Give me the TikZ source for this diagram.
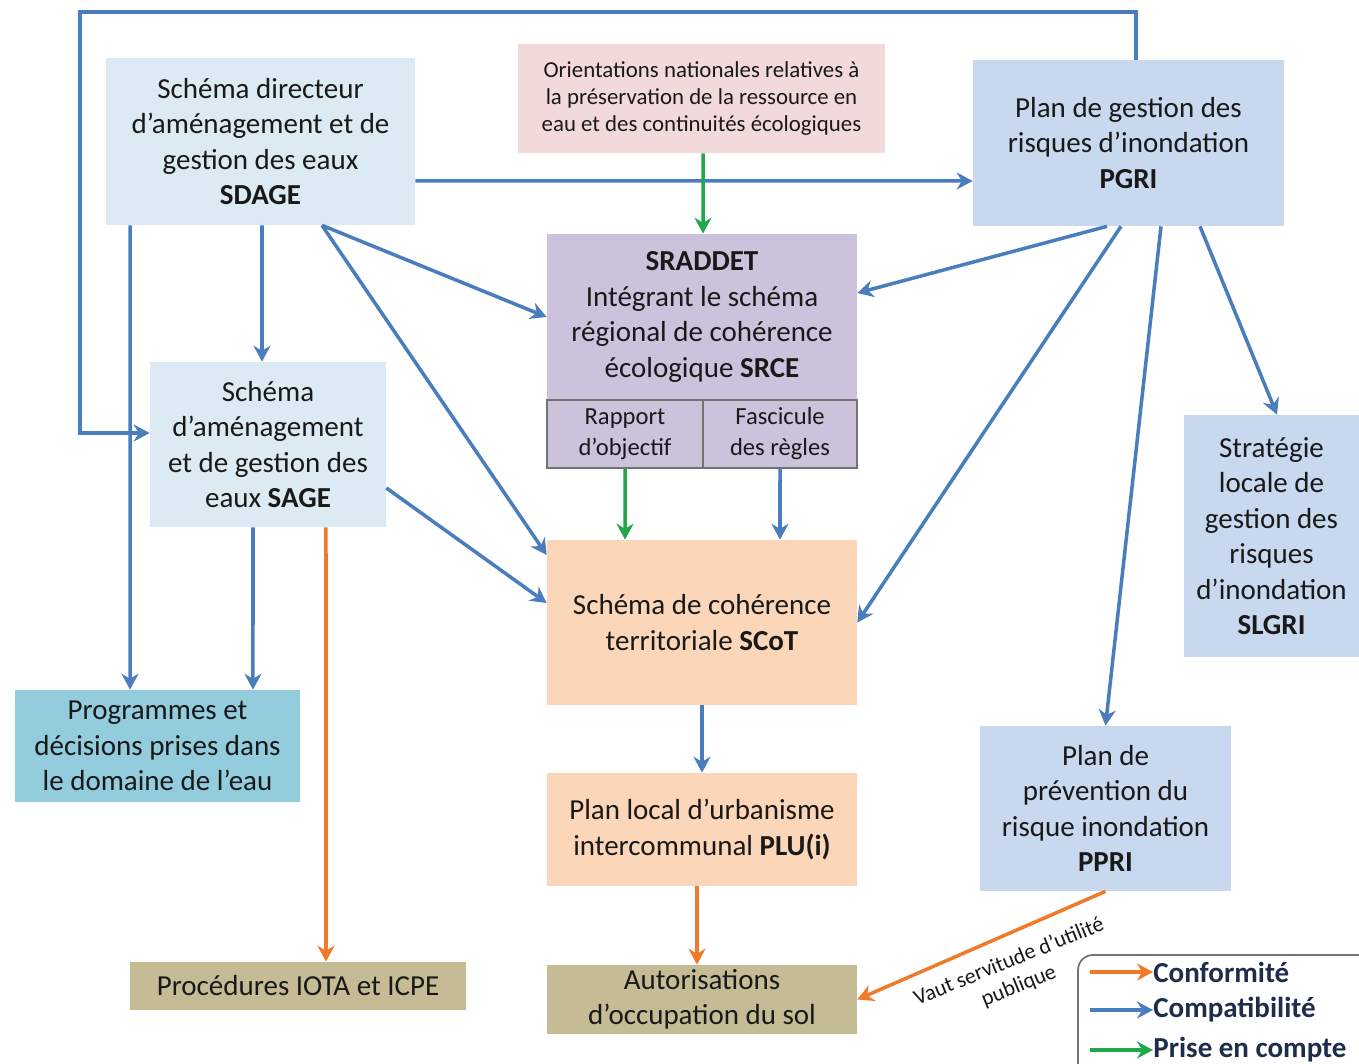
\documentclass[tikz,border=0pt]{standalone}
\usepackage{fontspec}
\setmainfont{Carlito}
\usetikzlibrary{arrows.meta}
\definecolor{eaubleu}{HTML}{DCEBF3}
\definecolor{risqbleu}{HTML}{C7D8EF}
\definecolor{orientrose}{HTML}{F2DADA}
\definecolor{sradlav}{HTML}{CCC2DB}
\definecolor{scotpeche}{HTML}{FBD6B8}
\definecolor{autokaki}{HTML}{C5BC96}
\definecolor{progbleu}{HTML}{93CCDC}
\definecolor{flbleu}{HTML}{4A7DBE}
\definecolor{florange}{HTML}{F07A2A}
\definecolor{flvert}{HTML}{22A84A}
\definecolor{legtexte}{HTML}{1F2D4D}
\begin{document}
\begin{tikzpicture}[x=0.02cm,y=-0.02cm,
    boite/.style={inner sep=0pt,align=center,text=black!90,font=\fontsize{16.5}{20.2}\selectfont},
    compat/.style={line width=2pt,draw=flbleu,-{Stealth[length=0.32cm,width=0.34cm]}},
    conform/.style={line width=2pt,draw=florange,-{Stealth[length=0.32cm,width=0.34cm]}},
    prisecpt/.style={line width=2pt,draw=flvert,-{Stealth[length=0.32cm,width=0.34cm]}},
    legtxt/.style={anchor=west,inner sep=0pt,text=legtexte,font=\fontsize{16.5}{20}\selectfont\bfseries}]
    \useasboundingbox (0,0) rectangle (1359,1064);

    \node[boite,fill=eaubleu,minimum width=6.18cm,minimum height=3.34cm] (sdage) at (260.5,141.5)
        {Schéma directeur\\d’aménagement et de\\gestion des eaux\\\textbf{SDAGE}};
    \node[boite,fill=orientrose,minimum width=7.34cm,minimum height=2.18cm,font=\fontsize{13}{15.3}\selectfont] (orient) at (701.5,98.5)
        {Orientations nationales relatives à\\la préservation de la ressource en\\eau et des continuités écologiques};
    \node[boite,fill=risqbleu,minimum width=6.22cm,minimum height=3.32cm] (pgri) at (1128.5,143)
        {Plan de gestion des\\risques d’inondation\\\textbf{PGRI}};
    \node[boite,fill=sradlav,minimum width=6.2cm,minimum height=3.32cm] (sraddet) at (702,317)
        {\textbf{SRADDET}\\Intégrant le schéma\\régional de cohérence\\écologique \textbf{SRCE}};
    \node[boite,fill=sradlav,draw=black!55,line width=0.8pt,minimum width=3.12cm,minimum height=1.36cm,font=\fontsize{14}{17.6}\selectfont] (rapport) at (625,434)
        {Rapport\\d’objectif};
    \node[boite,fill=sradlav,draw=black!55,line width=0.8pt,minimum width=3.08cm,minimum height=1.36cm,font=\fontsize{14}{17.6}\selectfont] (fascicule) at (780,434)
        {Fascicule\\des règles};
    \node[boite,fill=eaubleu,minimum width=4.72cm,minimum height=3.3cm] (sage) at (268,444.5)
        {Schéma\\d’aménagement\\et de gestion des\\eaux \textbf{SAGE}};
    \node[boite,fill=scotpeche,minimum width=6.2cm,minimum height=3.3cm] (scot) at (702,622.5)
        {Schéma de cohérence\\territoriale \textbf{SCoT}};
    \node[boite,fill=scotpeche,minimum width=6.2cm,minimum height=2.26cm] (plu) at (702,829.5)
        {Plan local d’urbanisme\\intercommunal \textbf{PLU(i)}};
    \node[boite,fill=autokaki,minimum width=6.2cm,minimum height=1.38cm] (autor) at (702,999.5)
        {Autorisations\\d’occupation du sol};
    \node[boite,fill=autokaki,minimum width=6.72cm,minimum height=0.96cm] (iota) at (298,986)
        {Procédures IOTA et ICPE};
    \node[boite,fill=progbleu,minimum width=5.7cm,minimum height=2.24cm] (prog) at (157.5,746)
        {Programmes et\\décisions prises dans\\le domaine de l’eau};
    \node[boite,fill=risqbleu,minimum width=3.5cm,minimum height=4.84cm] (slgri) at (1271.5,536)
        {Stratégie\\locale de\\gestion des\\risques\\d’inondation\\\textbf{SLGRI}};
    \node[boite,fill=risqbleu,minimum width=5.02cm,minimum height=3.3cm] (ppri) at (1105.5,808.5)
        {Plan de\\prévention du\\risque inondation\\\textbf{PPRI}};

    \draw[compat] ([yshift=-0.79cm]sdage.east) -- ([yshift=-0.76cm]pgri.west);
    \draw[compat] ([xshift=0.03cm]sdage.south) -- ([xshift=-0.12cm]sage.north);
    \draw[compat] ([xshift=-2.61cm]sdage.south) -- ([xshift=-0.55cm]prog.north);
    \draw[compat] ([xshift=1.23cm]sdage.south) -- (sraddet.west);
    \draw[compat] ([xshift=1.23cm]sdage.south) -- ([yshift=1.35cm]scot.west);
    \draw[compat] ([yshift=-0.87cm]sage.east) -- ([yshift=0.39cm]scot.west);
    \draw[compat] ([xshift=-0.3cm]sage.south) -- ([xshift=1.91cm]prog.north);
    \draw[conform] ([xshift=1.16cm]sage.south) -- ([xshift=0.56cm]iota.north);
    \draw[prisecpt] ([xshift=0.03cm]orient.south) -- ([xshift=0.02cm]sraddet.north);
    \draw[prisecpt] (rapport.south) -- ([xshift=-1.54cm]scot.north);
    \draw[compat] (fascicule.south) -- ([xshift=1.56cm]scot.north);
    \draw[compat] ([xshift=-0.43cm]pgri.south) -- ([yshift=0.48cm]sraddet.east);
    \draw[compat] ([xshift=-0.15cm]pgri.south) -- (scot.east);
    \draw[compat] ([xshift=0.65cm]pgri.south) -- (ppri.north);
    \draw[compat] ([xshift=1.43cm]pgri.south) -- ([xshift=0.11cm]slgri.north);
    \draw[compat] (scot.south) -- (plu.north);
    \draw[conform] ([xshift=-0.1cm]plu.south) -- ([xshift=-0.1cm]autor.north);
    \draw[conform] (ppri.south) -- (autor.east);
    \node[rotate=22,align=center,inner sep=0pt,text=black!90,font=\fontsize{12.5}{15}\selectfont] (servitude) at (1014,974)
        {Vaut servitude d’utilité\\publique};

    \coordinate (boucle) at (80,12);
    \draw[compat] ([xshift=0.15cm]pgri.north) |- (boucle) |- ([yshift=0.23cm]sage.west);

    \draw[draw=black!55,line width=1pt,rounded corners=0.3cm] (1078,955) rectangle (1400,1100);
    \coordinate (leg1) at (1090,972);
    \coordinate (leg2) at (1090,1010);
    \coordinate (leg3) at (1090,1050);
    \node[legtxt] (lconf) at (1153,972) {Conformité};
    \node[legtxt] (lcompat) at (1153,1010) {Compatibilité};
    \node[legtxt] (lprise) at (1153,1050) {Prise en compte};
    \draw[conform] (leg1) -- (lconf.west);
    \draw[compat] (leg2) -- (lcompat.west);
    \draw[prisecpt] (leg3) -- (lprise.west);
\end{tikzpicture}
\end{document}
